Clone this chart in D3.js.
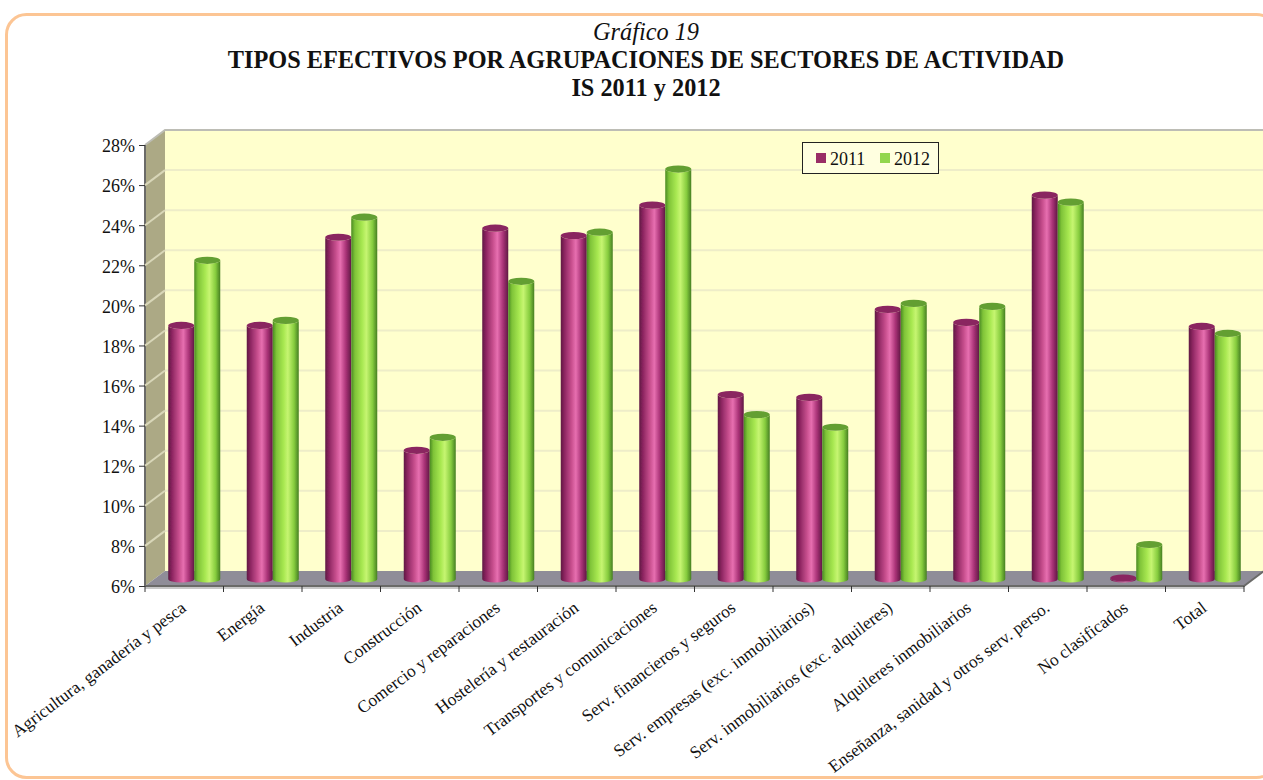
<!DOCTYPE html>
<html><head><meta charset="utf-8">
<script src="https://cdnjs.cloudflare.com/ajax/libs/d3/7.8.5/d3.min.js"></script>
<style>html,body{margin:0;padding:0;background:#fff}svg{display:block}text{font-family:"Liberation Serif",serif;fill:#111}</style>
</head><body>
<svg id="c" width="1263" height="780"></svg>
<script>
const categories=["Agricultura, ganadería y pesca","Energía","Industria","Construcción","Comercio y reparaciones","Hostelería y restauración","Transportes y comunicaciones","Serv. financieros y seguros","Serv. empresas (exc. inmobiliarios)","Serv. inmobiliarios (exc. alquileres)","Alquileres inmobiliarios","Enseñanza, sanidad y otros serv. perso.","No clasificados","Total"];
const values2011=[18.65,18.65,23.05,12.42,23.5,23.13,24.65,15.2,15.06,19.45,18.8,25.15,6.05,18.6];
const values2012=[21.9,18.9,24.05,13.07,20.85,23.3,26.45,14.2,13.57,19.75,19.6,24.8,7.72,18.25];
const years=["2011","2012"];
const yTicks=d3.range(6,29,2);
const titleLines=["Gráfico 19","TIPOS EFECTIVOS POR AGRUPACIONES DE SECTORES DE ACTIVIDAD","IS 2011 y 2012"];

const svg=d3.select("#c");
const defs=svg.append("defs");
function grad(id,stops){
  const g=defs.append("linearGradient").attr("id",id).attr("x1","0").attr("x2","1").attr("y1","0").attr("y2","0");
  stops.forEach(s=>g.append("stop").attr("offset",s[0]).attr("stop-color",s[1]));
}
grad("red",[[0,"#5f1743"],[.15,"#8e2662"],[.42,"#c9508f"],[.58,"#e76fb0"],[.8,"#a83276"],[1,"#601744"]]);
grad("green",[[0,"#4a8a22"],[.14,"#7fc338"],[.42,"#a8e851"],[.58,"#c6f571"],[.82,"#86cc3e"],[1,"#467f22"]]);
defs.append("filter").attr("id","soft").attr("x","-5%").attr("y","-5%").attr("width","110%").attr("height","110%")
  .append("feGaussianBlur").attr("stdDeviation",0.7);

// outer frame
svg.append("rect").attr("x",6.5).attr("y",14.5).attr("width",1270).attr("height",763).attr("rx",20)
  .attr("fill","#fff").attr("stroke","#fcc594").attr("stroke-width",3);

// title
const tx=646;
svg.append("text").attr("x",tx).attr("y",40).attr("text-anchor","middle").attr("font-size",24.3).attr("font-style","italic").text(titleLines[0]);
svg.append("text").attr("x",tx).attr("y",68).attr("text-anchor","middle").attr("font-size",24.3).attr("font-weight","bold").text(titleLines[1]);
svg.append("text").attr("x",tx).attr("y",96).attr("text-anchor","middle").attr("font-size",24.3).attr("font-weight","bold").text(titleLines[2]);

// scales
const dx=20,dy=-15;
const y=d3.scaleLinear().domain([6,28]).range([586,145]);
const x=d3.scaleBand().domain(categories).range([145,1244]);
const inner=d3.scaleBand().domain(years).range([0,52]);

const plot=svg.append("g").attr("filter","url(#soft)");
const L=x.range()[0],R=x.range()[1],T=y(28),B=y(6);
plot.append("rect").attr("x",L+dx).attr("y",T+dy).attr("width",R-L).attr("height",B-T).attr("fill","#ffffcd");
plot.append("path").attr("d",`M${L},${T}L${L+dx},${T+dy}L${L+dx},${B+dy}L${L},${B}Z`).attr("fill","#aca985");
plot.append("path").attr("d",`M${L},${B}L${L+dx},${B+dy}L${R+dx},${B+dy}L${R},${B}Z`).attr("fill","#8f8d98");
plot.append("path").attr("d",`M${L},${T}L${L+dx},${T+dy}L${R+dx},${T+dy}`).attr("fill","none").attr("stroke","#bdbdb5").attr("stroke-width",2);
plot.append("path").attr("d",`M${L},${T}L${L},${B}L${R},${B}L${R+dx},${B+dy}`).attr("fill","none").attr("stroke","#6b6b68").attr("stroke-width",2);
plot.append("line").attr("x1",L).attr("x2",R).attr("y1",B+2).attr("y2",B+2).attr("stroke","#c8c8c8").attr("stroke-width",2);
const grid=yTicks.filter(t=>t>6&&t<28);
plot.selectAll(".gb").data(grid).join("line").attr("x1",L+dx).attr("x2",R+dx)
  .attr("y1",d=>y(d)+dy).attr("y2",d=>y(d)+dy).attr("stroke","#eeedc8").attr("stroke-width",2);
plot.selectAll(".gs").data(grid).join("line").attr("x1",L).attr("x2",L+dx)
  .attr("y1",d=>y(d)).attr("y2",d=>y(d)+dy).attr("stroke","#d8d6b8").attr("stroke-width",2);

// bars
const rows=[];
categories.forEach((c,i)=>{rows.push({c,s:"2011",v:values2011[i]});rows.push({c,s:"2012",v:values2012[i]});});
const barShiftX=10,barShiftY=-7,ry=3.6;
const bars=plot.selectAll(".bar").data(rows).join("g").attr("class","bar")
  .attr("transform",d=>`translate(${x(d.c)+x.bandwidth()/2-26+barShiftX+inner(d.s)},0)`);
bars.append("path").attr("d",d=>{
  const w=inner.bandwidth(),t=y(d.v)+barShiftY,b=y(6)+barShiftY;
  return `M0,${t}L0,${b}A${w/2},${ry} 0 0 0 ${w},${b}L${w},${t}A${w/2},${ry} 0 0 1 0,${t}Z`;
}).attr("fill",d=>d.s==="2011"?"url(#red)":"url(#green)");
bars.append("ellipse").attr("cx",inner.bandwidth()/2).attr("cy",d=>y(d.v)+barShiftY).attr("rx",inner.bandwidth()/2).attr("ry",ry)
  .attr("fill",d=>d.s==="2011"?"#8a2560":"#649f33");

// axes
const yAxis=d3.axisLeft(y).tickValues(yTicks).tickFormat(d=>d+"%").tickSize(6).tickPadding(4);
const ga=svg.append("g").attr("transform",`translate(${L},0)`).call(yAxis);
ga.select(".domain").remove();
ga.selectAll("line").attr("stroke","#333");
ga.selectAll("text").attr("font-size",18).attr("dy","0.38em").style("font-family",'"Liberation Serif",serif').attr("fill","#111");
const xTicks=d3.range(0,categories.length+1).map(i=>L+i*x.step());
svg.selectAll(".xt").data(xTicks).join("line").attr("x1",d=>d).attr("x2",d=>d).attr("y1",B).attr("y2",B+6).attr("stroke","#333");
svg.selectAll(".xl").data(categories).join("text").attr("class","xl")
  .attr("text-anchor","end").attr("font-size",17.4)
  .attr("transform",d=>`translate(${x(d)+x.bandwidth()/2+3},${B+24}) rotate(-37)`).text(d=>d);

// legend
const lg=svg.append("g");
lg.append("rect").attr("x",802.5).attr("y",142.5).attr("width",136).attr("height",31).attr("fill","#ffffe0").attr("stroke","#222");
const lx=d3.scaleOrdinal().domain(years).range([816,880]);
lg.selectAll("rect.s").data(years).join("rect").attr("class","s").attr("x",d=>lx(d)).attr("y",153).attr("width",10).attr("height",10)
  .attr("fill",d=>d==="2011"?"#992d66":"#92d64e");
lg.selectAll("text").data(years).join("text").attr("x",d=>lx(d)+14).attr("y",165).attr("font-size",18).text(d=>d);
</script>
</body></html>
